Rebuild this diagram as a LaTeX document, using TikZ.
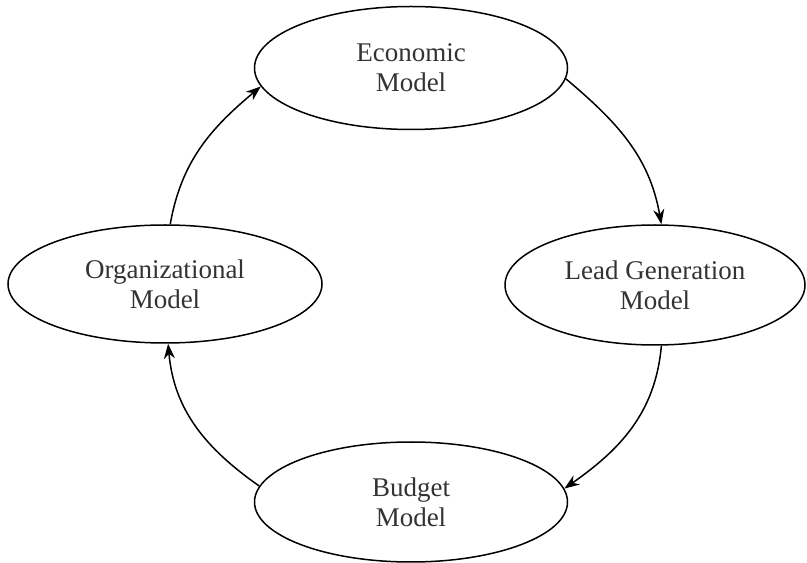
\documentclass[tikz,border=0pt]{standalone}
\usepackage{fontspec}
\setmainfont{Liberation Serif}
\usetikzlibrary{shapes.geometric, arrows.meta}
\tikzset{
    model/.style={
        draw=black, line width=1.5pt, ellipse, inner sep=0pt,
        minimum width=313pt, minimum height=120pt,
        align=center, text=black!80, font=\fontsize{27}{30}\selectfont
    },
    cycle arrow/.style={
        draw=black, line width=1.5pt, -{Stealth[length=15pt, width=11pt]}
    }
}

\begin{document}
\begin{tikzpicture}[x=1pt, y=1pt]
\useasboundingbox (0,0) rectangle (807,563);

\node[model, minimum height=123pt] (Econ) at (411, 495) {Economic\\Model};
\node[model, minimum width=314pt, minimum height=118pt] (Org) at (165, 279) {Organizational\\Model};
\node[model, minimum width=300pt] (Lead) at (655, 278) {Lead Generation\\Model};
\node[model] (Budget) at (411, 61) {Budget\\Model};

% the cycle runs clockwise
\draw[cycle arrow] (Econ.-4) to[out=-40, in=100] (Lead.84);
\draw[cycle arrow] (Lead.-84) to[out=-95, in=35] (Budget.5);
\draw[cycle arrow] (Budget.174) to[out=145, in=-85] (Org.-87);
\draw[cycle arrow] (Org.85) to[out=80, in=-140] (Econ.187);

\end{tikzpicture}
\end{document}
